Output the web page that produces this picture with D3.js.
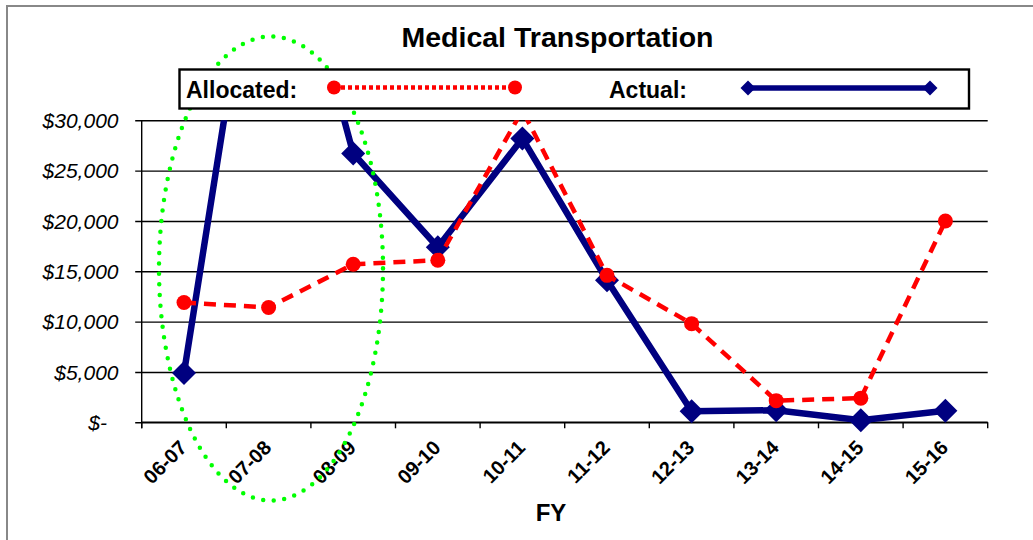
<!DOCTYPE html>
<html>
<head>
<meta charset="utf-8">
<script src="https://cdn.jsdelivr.net/npm/d3@7/dist/d3.min.js"></script>
<style>
  html, body { margin: 0; padding: 0; background: #fff; }
  svg { display: block; font-family: Arial, "Liberation Sans", sans-serif; }
</style>
</head>
<body>
<svg id="chart" width="1033" height="540"></svg>
<script>
// ---- data ----
const categories = ["06-07", "07-08", "08-09", "09-10", "10-11", "11-12", "12-13", "13-14", "14-15", "15-16"];
const allocated = [11900, 11400, 15700, 16100, 31000, 14600, 9800, 2150, 2400, 20000];
const actual = [4900, 58000, 26700, 17400, 28200, 14100, 1100, 1200, 200, 1150];
const yTicks = [0, 5000, 10000, 15000, 20000, 25000, 30000];
const yTickLabels = ["$-", "$5,000", "$10,000", "$15,000", "$20,000", "$25,000", "$30,000"];
const title = "Medical Transportation";
const xTitle = "FY";
const legendLabels = ["Allocated:", "Actual:"];

// ---- layout ----
const svg = d3.select("#chart");
const plot = { left: 141.7, right: 987.7, top: 120.3, bottom: 422.3 };

const x = d3.scaleBand().domain(categories).range([plot.left, plot.right]);
const y = d3.scaleLinear().domain([0, 30000]).range([plot.bottom, plot.top]);
const cx = c => x(c) + x.bandwidth() / 2;

// outer frame
svg.append("rect").attr("x", 7).attr("y", 6).attr("width", 1100).attr("height", 600)
  .attr("fill", "#fff").attr("stroke", "#888").attr("stroke-width", 2);

// clip (lines above max value are cut at the top of the plot)
svg.append("defs").append("clipPath").attr("id", "clipTop")
  .append("rect").attr("x", 0).attr("y", plot.top).attr("width", 1033).attr("height", 540);

// gridlines + y axis
const yAxis = d3.axisLeft(y).tickValues(yTicks)
  .tickSize(-(plot.right - plot.left)).tickPadding(0).tickFormat("");
const gy = svg.append("g").attr("transform", `translate(${plot.left},0)`).call(yAxis);
gy.select(".domain").remove();
gy.selectAll(".tick line").attr("stroke", "#000").attr("stroke-width", 1.4).attr("x1", -6.5);

svg.append("g").selectAll("text").data(yTicks).join("text")
  .attr("x", (d, i) => i === 0 ? 107 : 118.5)
  .attr("y", d => y(d)).attr("dy", "0.36em")
  .attr("text-anchor", "end").attr("font-size", 21).attr("font-style", "italic")
  .attr("fill", "#000")
  .text((d, i) => yTickLabels[i]);

// y axis line
svg.append("line").attr("x1", plot.left).attr("x2", plot.left)
  .attr("y1", plot.top).attr("y2", plot.bottom + 6)
  .attr("stroke", "#000").attr("stroke-width", 1.4);

// x axis
const xAxis = d3.axisBottom(x).tickSize(0).tickFormat("");
const gx = svg.append("g").attr("transform", `translate(0,${plot.bottom})`).call(xAxis);
gx.select(".domain").attr("stroke", "#000").attr("stroke-width", 1.4)
  .attr("d", `M${plot.left},0H${plot.right}`);
const bounds = categories.map(c => x(c)).concat([plot.right]);
gx.selectAll(".bound").data(bounds).join("line").attr("class", "bound")
  .attr("x1", d => d).attr("x2", d => d).attr("y1", 0).attr("y2", 6)
  .attr("stroke", "#000").attr("stroke-width", 1.4);

// x labels
svg.append("g").selectAll("text").data(categories).join("text")
  .attr("transform", d => `translate(${cx(d) + 4},${449}) rotate(-45)`)
  .attr("text-anchor", "end").attr("font-size", 20).attr("font-weight", "bold")
  .attr("fill", "#000").text(d => d);

// axis title
svg.append("text").attr("x", 551).attr("y", 521).attr("text-anchor", "middle")
  .attr("font-size", 24).attr("font-weight", "bold").text(xTitle);

// title
svg.append("text").attr("x", 557.5).attr("y", 46.7).attr("text-anchor", "middle")
  .attr("font-size", 28.5).attr("font-weight", "bold").text(title);

// series
const series = svg.append("g").attr("clip-path", "url(#clipTop)");
const line = d3.line().x((d, i) => cx(categories[i])).y(d => y(d));
const diamond = (s) => `M0,${-s}L${s},0L0,${s}L${-s},0Z`;

series.append("path").datum(actual).attr("d", line)
  .attr("fill", "none").attr("stroke", "#000080").attr("stroke-width", 6.5)
  .attr("stroke-linejoin", "miter");
series.selectAll(".dia").data(actual).join("path").attr("class", "dia")
  .attr("transform", (d, i) => `translate(${cx(categories[i])},${y(d)})`)
  .attr("d", diamond(12)).attr("fill", "#000080");

series.append("path").datum(allocated).attr("d", line)
  .attr("fill", "none").attr("stroke", "#ff0000").attr("stroke-width", 4.5)
  .attr("stroke-dasharray", "12,8");
series.selectAll(".dot").data(allocated).join("circle").attr("class", "dot")
  .attr("cx", (d, i) => cx(categories[i])).attr("cy", d => y(d)).attr("r", 7.5)
  .attr("fill", "#ff0000");

// green dotted ellipse annotation
svg.append("ellipse").attr("cx", 271).attr("cy", 268.5).attr("rx", 112).attr("ry", 232)
  .attr("fill", "none").attr("stroke", "#00ff00").attr("stroke-width", 4.5)
  .attr("stroke-linecap", "round").attr("stroke-dasharray", "0,10.6");

// legend
const lg = svg.append("g");
lg.append("rect").attr("x", 179.5).attr("y", 69.5).attr("width", 789.5).attr("height", 39)
  .attr("fill", "#fff").attr("stroke", "#000").attr("stroke-width", 2.4);
lg.append("text").attr("x", 186).attr("y", 97.5).attr("font-size", 23).attr("font-weight", "bold")
  .text(legendLabels[0]);
lg.append("text").attr("x", 609).attr("y", 97.5).attr("font-size", 23).attr("font-weight", "bold")
  .text(legendLabels[1]);
lg.append("line").attr("x1", 334).attr("x2", 515).attr("y1", 87.5).attr("y2", 87.5)
  .attr("stroke", "#ff0000").attr("stroke-width", 4.5).attr("stroke-dasharray", "4,3");
[334, 515].forEach(px => lg.append("circle").attr("cx", px).attr("cy", 87.5).attr("r", 7).attr("fill", "#ff0000"));
lg.append("line").attr("x1", 748).attr("x2", 930).attr("y1", 88).attr("y2", 88)
  .attr("stroke", "#000080").attr("stroke-width", 5.5);
[748, 930].forEach(px => lg.append("path").attr("transform", `translate(${px},88)`)
  .attr("d", diamond(7.5)).attr("fill", "#000080"));
</script>
</body>
</html>
